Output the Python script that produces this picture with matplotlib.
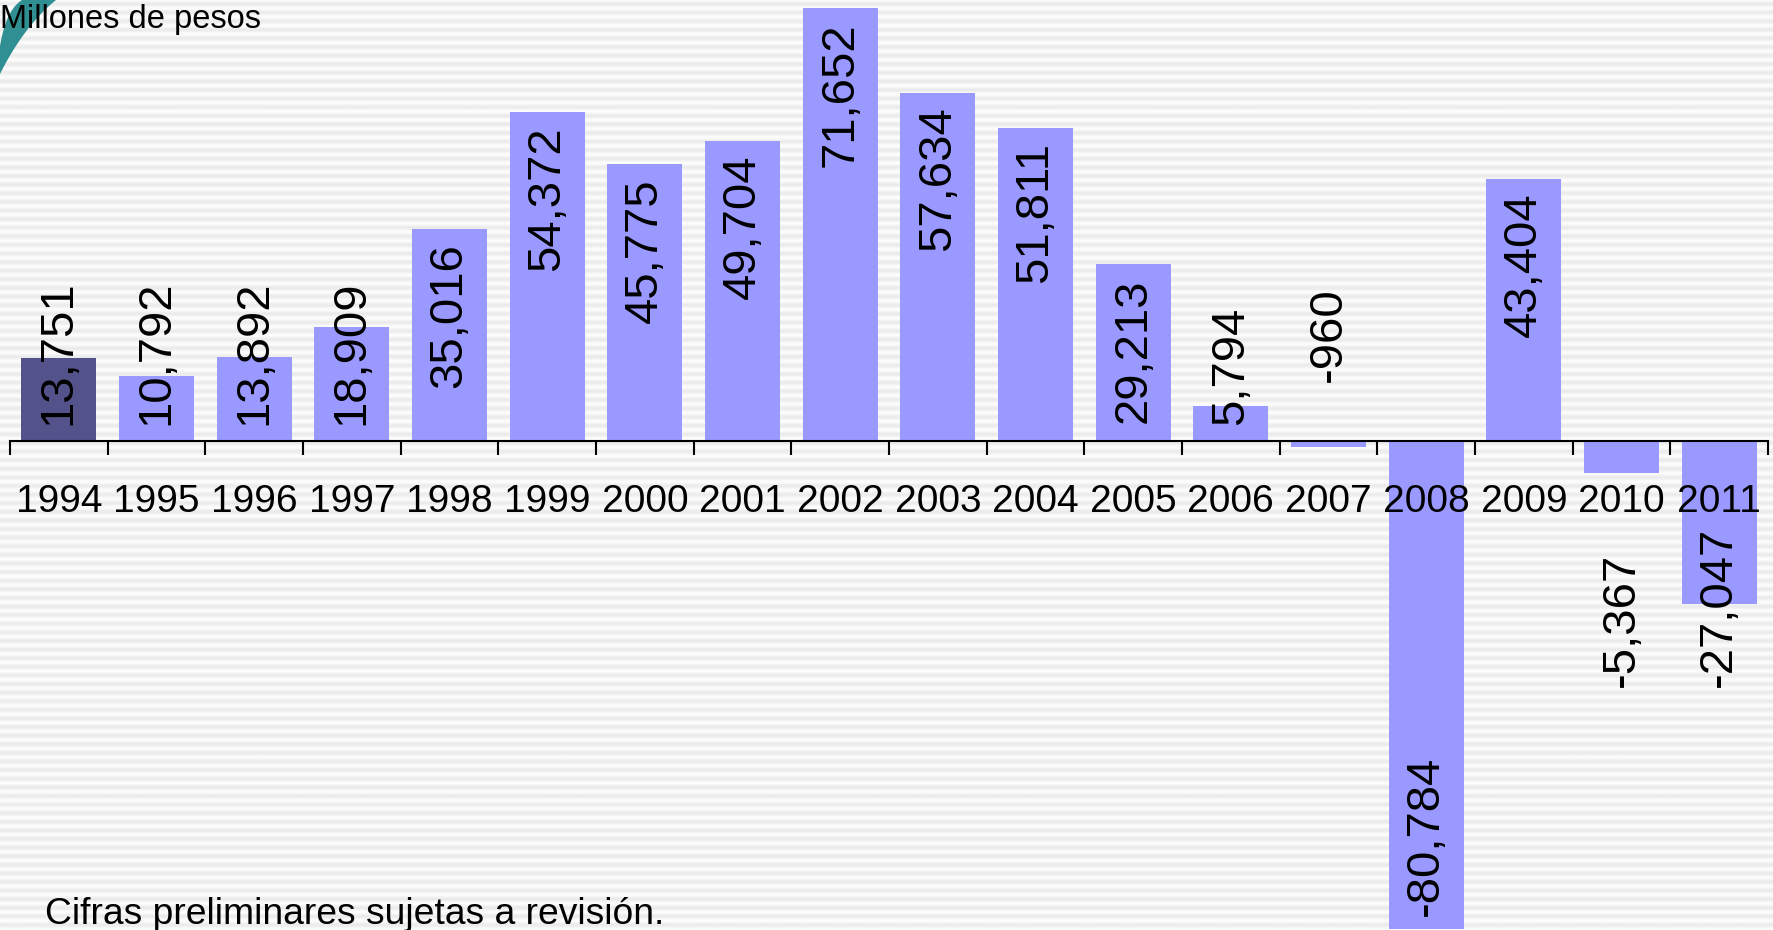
import matplotlib
matplotlib.use("Agg")
import matplotlib.pyplot as plt
import matplotlib.patches as mpatches
import numpy as np

plt.rcParams["font.family"] = ["Liberation Sans", "DejaVu Sans"]

years = [str(y) for y in range(1994, 2012)]
values = [13751, 10792, 13892, 18909, 35016, 54372, 45775, 49704, 71652,
          57634, 51811, 29213, 5794, -960, -80784, 43404, -5367, -27047]
highlight = "1994"

W, H = 1773, 930
fig = plt.figure(figsize=(W / 100, H / 100), dpi=100)

# fondo rayado
bg = fig.add_axes([0, 0, 1, 1], zorder=0)
rows = np.arange(H)
shade = 0.955 + 0.035 * np.cos(2 * np.pi * rows / 8.6)
img = np.repeat(shade[:, None], 4, axis=1)
bg.imshow(img, cmap="gray", vmin=0, vmax=1, aspect="auto",
          extent=(0, W, H, 0), interpolation="bilinear")
bg.set_xlim(0, W)
bg.set_ylim(H, 0)
bg.axis("off")

# adorno turquesa en la esquina
t = np.linspace(0, 1, 30)
outer = np.c_[(1 - t) ** 2 * 56 + 2 * (1 - t) * t * 24, 2 * (1 - t) * t * 26 + t ** 2 * 74]
inner = np.c_[(1 - t) ** 2 * 22 + 2 * (1 - t) * t * 6, 2 * (1 - t) * t * 10 + t ** 2 * 46][::-1]
bg.add_patch(mpatches.Polygon(np.vstack([outer, inner]), closed=True,
                              color="#2f8f92", lw=0))

ax = fig.add_axes([10 / W, 0, 1758 / W, 1], zorder=1)
ax.patch.set_alpha(0)

x = np.arange(len(years))
colors = ["#53528A" if y == highlight else "#9999FF" for y in years]
ax.bar(x, values, width=0.77, color=colors, zorder=2)

ax.set_xlim(-0.5, len(years) - 0.5)
ax.set_ylim(-80920, 72977)

for s in ["top", "left", "right"]:
    ax.spines[s].set_visible(False)
ax.spines["bottom"].set_position(("data", 0))
ax.spines["bottom"].set_linewidth(1.5)
ax.spines["bottom"].set_zorder(3)
ax.set_yticks([])
ax.set_xticks(np.arange(-0.5, len(years), 1))
ax.set_xticklabels([])
ax.tick_params(axis="x", direction="out", length=10, width=1.5, color="black")

for i, y in enumerate(years):
    ax.annotate(y, (i, 0), xytext=(0, -71), textcoords="offset pixels",
                ha="center", va="baseline", fontsize=28, zorder=4)

fig.canvas.draw()
renderer = fig.canvas.get_renderer()
axis_px = ax.transData.transform((0, 0))[1]

fs = 34
for i, v in enumerate(values):
    lab = f"{v:,}"
    if v > 0:
        txt = ax.annotate(lab, (i, v), xytext=(0, -14), textcoords="offset pixels",
                          rotation=90, ha="center", va="top", fontsize=fs, zorder=4)
        bb = txt.get_window_extent(renderer)
        if bb.y0 < axis_px + 16:
            txt.remove()
            ax.annotate(lab, (i, 0), xytext=(0, 16), textcoords="offset pixels",
                        rotation=90, ha="center", va="bottom", fontsize=fs, zorder=4)
    else:
        txt = ax.annotate(lab, (i, v), xytext=(0, 13), textcoords="offset pixels",
                          rotation=90, ha="center", va="bottom", fontsize=fs, zorder=4)
        bb = txt.get_window_extent(renderer)
        if bb.y1 > axis_px - 18:
            txt.remove()
            bar_px = axis_px - ax.transData.transform((0, v))[1]
            off = 59 if bar_px < 20 else -246
            ax.annotate(lab, (i, 0), xytext=(0, off), textcoords="offset pixels",
                        rotation=90, ha="center", va="bottom", fontsize=fs, zorder=4)

fig.text(0, 1 - 28 / H, "Millones de pesos", fontsize=23.5, ha="left", va="baseline")
fig.text(45 / W, 6 / H, "Cifras preliminares sujetas a revisión.", fontsize=26.8,
         ha="left", va="baseline")

fig.savefig("out.png", dpi=100)
